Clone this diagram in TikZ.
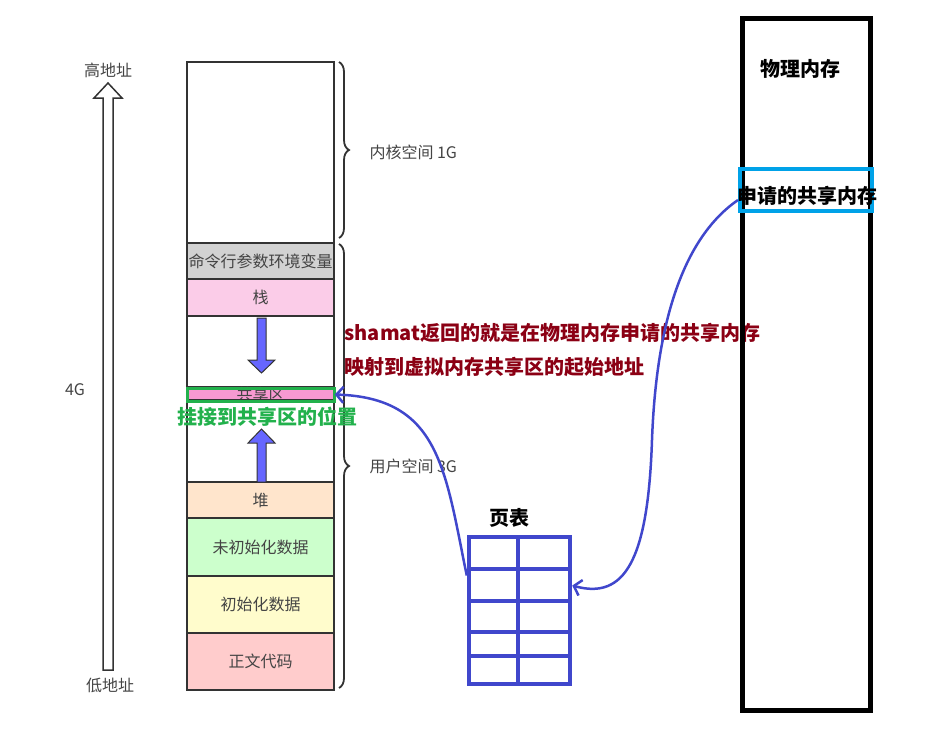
\documentclass[tikz,border=0pt]{standalone}
\usepackage{fontspec}
\setmainfont{Noto Sans CJK SC}
\usepackage{xcolor}
\usetikzlibrary{arrows.meta,decorations.pathreplacing}

\definecolor{segline}{HTML}{333333}
\definecolor{segtext}{HTML}{444444}
\definecolor{darkred}{HTML}{8B0014}
\definecolor{hookgreen}{HTML}{22B14C}
\definecolor{mapblue}{HTML}{4047CC}
\definecolor{reqblue}{HTML}{00A2E8}
\definecolor{growblue}{HTML}{6666FF}

\tikzset{
    seg/.style={draw=segline,line width=1.5pt,minimum width=147pt,inner sep=0pt,
        text=segtext,font=\fontsize{16}{19}\selectfont},
    addr/.style={text=segtext,font=\fontsize{16}{19}\selectfont},
    bold/.style={font=\fontsize{20}{24}\selectfont\bfseries},
    mapping/.style={draw=mapblue,line width=2.5pt,-{Straight Barb[length=7pt,width=16pt]}},
    growarrow/.style={draw=segline,fill=growblue,line width=1pt},
    span/.style={draw=segline,line width=1.8pt,decorate,decoration={brace,amplitude=10pt}},
}

\begin{document}
\begin{tikzpicture}[x=1pt,y=-1pt]
    \useasboundingbox (0,0) rectangle (935,753);
    % address axis
    \draw[segline,line width=1.5pt,fill=white] (103,670) -- (103,98) -- (94,98) -- (108,83) -- (122,98) -- (113,98) -- (113,670) -- cycle;
    \node[addr] (high) at (108,70) {高地址};
    \node[addr] (low) at (110,685) {低地址};
    \node[addr] (total) at (75,390) {4G};
    % virtual memory layout
    \node[seg,minimum height=181pt] (kernel) at (260.5,152.5) {};
    \node[seg,fill=gray!35,minimum height=36pt] (cmd) at (260.5,261) {命令行参数环境变量};
    \node[seg,fill=magenta!20,minimum height=37pt] (stack) at (260.5,297.5) {栈};
    \node[seg,minimum height=73pt] (gapA) at (260.5,352.5) {};
    \node[seg,fill=magenta!40,minimum height=11pt] (shm) at (260.5,394.5) {共享区};
    \node[seg,minimum height=82pt] (gapB) at (260.5,441) {};
    \node[seg,fill=orange!20,minimum height=36pt] (heap) at (260.5,500) {堆};
    \node[seg,fill=green!20,minimum height=58pt] (bss) at (260.5,547) {未初始化数据};
    \node[seg,fill=yellow!20,minimum height=57pt] (data) at (260.5,604.5) {初始化数据};
    \node[seg,fill=red!20,minimum height=57pt] (code) at (260.5,661.5) {正文代码};
    % growth of stack and heap
    \draw[growarrow] (257,318) -- (266,318) -- (266,360) -- (275,360) -- (261.5,373) -- (248,360) -- (257,360) -- cycle;
    \draw[growarrow] (257,482) -- (266,482) -- (266,443) -- (275,443) -- (261.5,429) -- (248,443) -- (257,443) -- cycle;
    % braces
    \draw[span] (339,62) -- (339,238);
    \node[addr,anchor=west] (kspace) at (366,152) {内核空间 1G};
    \draw[span] (339,244) -- (339,688);
    \node[addr,anchor=west] (uspace) at (366,466) {用户空间 3G};
    % attach position
    \draw[hookgreen,line width=3pt] (187,388) rectangle (334,401);
    \node[bold,text=hookgreen] (hook) at (267,417) {挂接到共享区的位置};
    \node[bold,text=darkred,anchor=west] (note1) at (341,333) {shamat返回的就是在物理内存申请的共享内存};
    \node[bold,text=darkred,anchor=west] (note2) at (341,367) {映射到虚拟内存共享区的起始地址};
    % page table
    \node[draw=mapblue,line width=4.5pt,minimum width=101pt,minimum height=147pt] (ptable) at (519.5,610.5) {};
    \foreach \y in {569,601,632,656}
        \draw[mapblue,line width=4pt] (469,\y) -- (570,\y);
    \draw[mapblue,line width=4pt] (517.5,537) -- (517.5,684);
    \node[bold] (ptlabel) at (509,518) {页表};
    % physical memory
    \node[draw,line width=5pt,minimum width=128pt,minimum height=692pt] (phys) at (806,364) {};
    \node[bold] (physlabel) at (800,69) {物理内存};
    \node[draw=reqblue,line width=4pt,minimum width=132pt,minimum height=42pt,inner sep=0pt] (req) at (806,190) {};
    \node[bold] (reqlabel) at (807,196) {申请的共享内存};
    % mappings
    \draw[mapping] ([yshift=35pt]ptable.west) .. controls (445,470) and (440,398) .. (shm.east);
    \draw[mapping] ([yshift=-10pt]req.west) .. controls (680,240) and (656,330) .. (652,440) .. controls (648,560) and (625,600) .. ([yshift=25pt]ptable.east);
\end{tikzpicture}
\end{document}
